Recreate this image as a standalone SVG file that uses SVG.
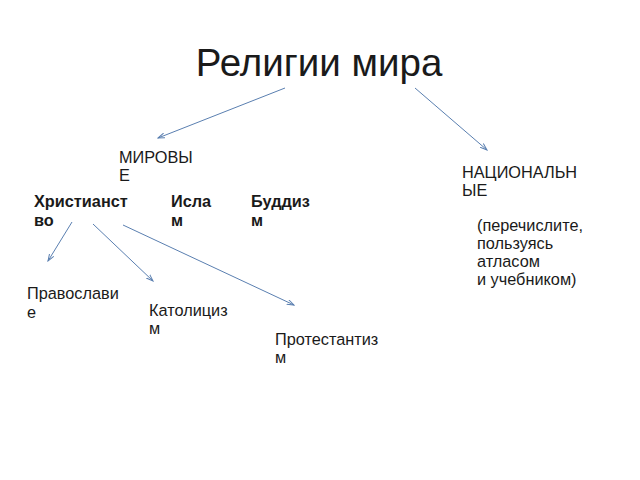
<svg xmlns="http://www.w3.org/2000/svg" width="640" height="480" viewBox="0 0 640 480">
<style>
text{font-family:"Liberation Sans",Arial,sans-serif;fill:#1a1a1a;font-size:16.3px}
.b{font-weight:bold}
.t{font-size:38.5px}
.c line{stroke:#5a7fb0;stroke-width:1;marker-end:url(#a)}
</style>
<defs>
<marker id="a" markerWidth="8" markerHeight="6" refX="7" refY="3" orient="auto" markerUnits="userSpaceOnUse">
<path d="M0,0.5 L7,3 L0,5.5" fill="none" stroke="#5a7fb0" stroke-width="1"/>
</marker>
</defs>
<rect width="640" height="480" fill="#fff"/>
<g id="title"><text class="t" x="319" y="76" text-anchor="middle">Религии мира</text></g>
<g class="c" id="connectors">
<line x1="285" y1="88" x2="158" y2="138"/>
<line x1="415" y1="88" x2="487" y2="150"/>
<line x1="72" y1="222" x2="48" y2="261"/>
<line x1="93" y1="224" x2="153" y2="281"/>
<line x1="123" y1="225" x2="294" y2="305"/>
</g>
<g id="world"><text x="119" y="163">МИРОВЫ</text><text x="119" y="181">Е</text></g>
<g id="national"><text x="462" y="178">НАЦИОНАЛЬН</text><text x="462" y="196">ЫЕ</text></g>
<g id="christianity"><text class="b" x="34" y="207">Христианст</text><text class="b" x="34" y="226">во</text></g>
<g id="islam"><text class="b" x="171" y="207">Исла</text><text class="b" x="171" y="226">м</text></g>
<g id="buddhism"><text class="b" x="251" y="207">Буддиз</text><text class="b" x="251" y="226">м</text></g>
<g id="orthodoxy"><text x="27" y="299">Православи</text><text x="27" y="318">е</text></g>
<g id="catholicism"><text x="149" y="316">Католициз</text><text x="149" y="334">м</text></g>
<g id="protestantism"><text x="275" y="345">Протестантиз</text><text x="275" y="363">м</text></g>
<g id="note"><text x="477" y="231">(перечислите,</text><text x="477" y="249">пользуясь</text><text x="477" y="267">атласом</text><text x="477" y="285">и учебником)</text></g>
</svg>
